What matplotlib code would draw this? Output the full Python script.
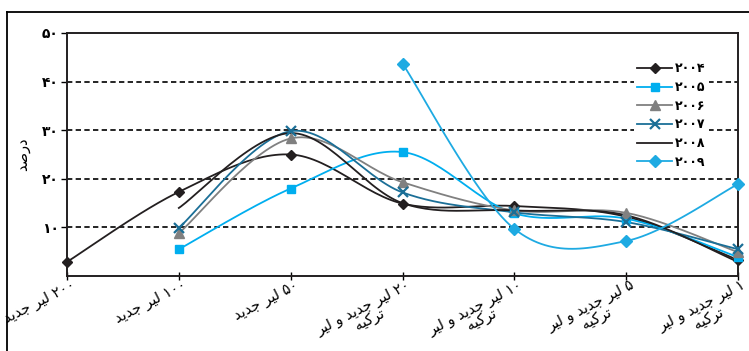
import numpy as np
import matplotlib
matplotlib.use("Agg")
import matplotlib.pyplot as plt
from matplotlib.lines import Line2D
from matplotlib.transforms import ScaledTranslation

plt.rcParams['font.family'] = ['DejaVu Sans']

# ---- data -------------------------------------------------------------
categories = [
    "۲۰۰ لیر جدید",
    "۱۰۰ لیر جدید",
    "۵۰ لیر جدید",
    "۲۰ لیر جدید و لیر\nترکیه",
    "۱۰ لیر جدید و لیر\nترکیه",
    "۵ لیر جدید و لیر\nترکیه",
    "۱ لیر جدید و لیر\nترکیه",
]
years = ["۲۰۰۴", "۲۰۰۵", "۲۰۰۶", "۲۰۰۷", "۲۰۰۸", "۲۰۰۹"]
# values in percent, None where a year has no value for a note
v2004 = [2.9, 17.3, 25.0, 14.9, 14.4, 12.2, 3.3]
v2005 = [None, 5.5, 18.0, 25.5, 12.9, 11.8, 3.9]
v2006 = [None, 8.8, 28.3, 19.3, 13.5, 13.0, 4.9]
v2007 = [None, 9.9, 29.8, 17.2, 13.1, 11.1, 5.5]
v2008 = [None, 14.0, 29.4, 15.0, 13.5, 12.5, 2.9]
v2009 = [None, None, None, 43.7, 9.7, 7.2, 18.9]
y_ticks = [10, 20, 30, 40, 50]
y_tick_labels = ["۱۰", "۲۰", "۳۰", "۴۰", "۵۰"]
y_title = "درصد"

series = [
    (v2004, dict(color="#231f20", marker="D", ms=5.5, mfc="#231f20", mec="#231f20")),
    (v2005, dict(color="#00aeef", marker="s", ms=5.5, mfc="#00aeef", mec="#00aeef")),
    (v2006, dict(color="#808080", marker="^", ms=7.5, mfc="#808080", mec="#808080")),
    (v2007, dict(color="#1b6f97", marker="x", ms=6.5, mew=1.6, mfc="#1b6f97", mec="#1b6f97")),
    (v2008, dict(color="#231f20", marker="None")),
    (v2009, dict(color="#1eaae2", marker="D", ms=6.5, mfc="#1eaae2", mec="#1eaae2")),
]

# ---- simple Arabic-script shaping for display ---------------------------
FORMS = {
    'ل': ('\uFEDD', '\uFEDE', '\uFEDF', '\uFEE0'),
    'ی': ('\uFEEF', '\uFEF0', '\uFEF3', '\uFEF4'),
    'ي': ('\uFEEF', '\uFEF0', '\uFEF3', '\uFEF4'),
    'ر': ('\uFEAD', '\uFEAE', None, None),
    'ج': ('\uFE9D', '\uFE9E', '\uFE9F', '\uFEA0'),
    'د': ('\uFEA9', '\uFEAA', None, None),
    'و': ('\uFEED', '\uFEEE', None, None),
    'ت': ('\uFE95', '\uFE96', '\uFE97', '\uFE98'),
    'ک': ('\uFED9', '\uFEDA', '\uFEDB', '\uFEDC'),
    'ك': ('\uFED9', '\uFEDA', '\uFEDB', '\uFEDC'),
    'ه': ('\uFEE9', '\uFEEA', '\uFEEB', '\uFEEC'),
    'ص': ('\uFEB9', '\uFEBA', '\uFEBB', '\uFEBC'),
}
DIGITS = set("۰۱۲۳۴۵۶۷۸۹0123456789")


def shape_word(w):
    out = []
    for i, c in enumerate(w):
        if c not in FORMS:
            out.append(c)
            continue
        iso, fin, ini, med = FORMS[c]
        prev = w[i - 1] if i > 0 else None
        nxt = w[i + 1] if i + 1 < len(w) else None
        jp = prev in FORMS and FORMS[prev][2] is not None
        jn = ini is not None and nxt in FORMS
        if jp and jn:
            out.append(med)
        elif jp:
            out.append(fin)
        elif jn:
            out.append(ini)
        else:
            out.append(iso)
    return ''.join(reversed(out))


def rtl(text):
    lines = []
    for line in text.split('\n'):
        toks = line.split(' ')
        shaped = [t if all(ch in DIGITS for ch in t) else shape_word(t) for t in toks]
        lines.append(' '.join(reversed(shaped)))
    return '\n'.join(lines)


def smooth(xs, ys, n=30):
    """Cardinal (Catmull-Rom) spline through the points."""
    pts = np.column_stack([xs, ys])
    outx, outy = [], []
    m = len(pts)
    for i in range(m - 1):
        p0 = pts[i - 1] if i > 0 else pts[i]
        p1 = pts[i]
        p2 = pts[i + 1]
        p3 = pts[i + 2] if i + 2 < m else pts[i + 1]
        c1 = p1 + (p2 - p0) / 6.0
        c2 = p2 - (p3 - p1) / 6.0
        t = np.linspace(0, 1, n)[:, None]
        b = ((1 - t) ** 3) * p1 + 3 * ((1 - t) ** 2) * t * c1 + 3 * (1 - t) * t ** 2 * c2 + t ** 3 * p2
        outx.extend(b[:, 0])
        outy.extend(b[:, 1])
    return np.array(outx), np.array(outy)


# ---- figure -----------------------------------------------------------
fig = plt.figure(figsize=(7.49, 3.51), dpi=100)
W, H = 749, 351
ax = fig.add_axes([67 / W, 1 - 276 / H, (738 - 67) / W, (276 - 33) / H])

x_all = np.arange(len(categories))
handles = []
for vals, st in series:
    xs = np.array([x for x, v in zip(x_all, vals) if v is not None], dtype=float)
    ys = np.array([v for v in vals if v is not None], dtype=float)
    sx, sy = smooth(xs, ys)
    ax.plot(sx, sy, color=st["color"], lw=1.3, clip_on=False, zorder=3)
    if st["marker"] != "None":
        ax.plot(xs, ys, linestyle="None", marker=st["marker"], ms=st["ms"],
                mfc=st["mfc"], mec=st["mec"], mew=st.get("mew", 1.0),
                clip_on=False, zorder=4)
    handles.append(Line2D([], [], color=st["color"], lw=1.3, marker=st["marker"],
                          ms=st.get("ms", 0), mfc=st.get("mfc"), mec=st.get("mec"),
                          mew=st.get("mew", 1.0)))

ax.set_xlim(0, len(categories) - 1)
ax.set_ylim(0, 50)

# dashed grid
for yv in y_ticks[:-1]:
    ax.axhline(yv, color="black", lw=1.2, ls=(0, (3.2, 2.0)), zorder=1)

ax.set_yticks(y_ticks)
ax.set_yticklabels(y_tick_labels, fontsize=10, fontweight="bold")
ax.tick_params(axis="y", direction="out", length=4, width=1.0, pad=2)

ax.set_xticks(x_all)
ax.tick_params(axis="x", direction="inout", length=6, width=1.0, pad=0)
offset = ScaledTranslation(2.5 / 72, 2 / 72, fig.dpi_scale_trans)
ax.set_xticklabels([rtl(c) for c in categories])
for lbl in ax.get_xticklabels():
    lbl.set_rotation(27)
    lbl.set_rotation_mode("anchor")
    lbl.set_ha("right")
    lbl.set_va("top")
    lbl.set_multialignment("center")
    lbl.set_fontsize(10.5)
    lbl.set_linespacing(0.85)
    lbl.set_transform(lbl.get_transform() + offset)

for sp in ax.spines.values():
    sp.set_linewidth(1.4)
    sp.set_color("#231f20")

ax.set_ylabel(rtl(y_title), fontsize=10.5, labelpad=8)

leg = ax.legend(handles, years, loc="upper left", bbox_to_anchor=(0.835, 0.92),
                frameon=True, facecolor="white", edgecolor="none", framealpha=1,
                fontsize=9, handlelength=2.8, handletextpad=0.2,
                labelspacing=0.45, borderpad=0.3, numpoints=1)
leg.set_zorder(5)
for t in leg.get_texts():
    t.set_fontweight("bold")

# outer frame
fig.add_artist(Line2D([7 / W, 1.0], [1 - 12 / H, 1 - 12 / H], color="black", lw=1.3,
                      transform=fig.transFigure))
fig.add_artist(Line2D([7 / W, 7 / W], [0.0, 1 - 12 / H], color="black", lw=1.3,
                      transform=fig.transFigure))

fig.savefig("out.png", dpi=100)
